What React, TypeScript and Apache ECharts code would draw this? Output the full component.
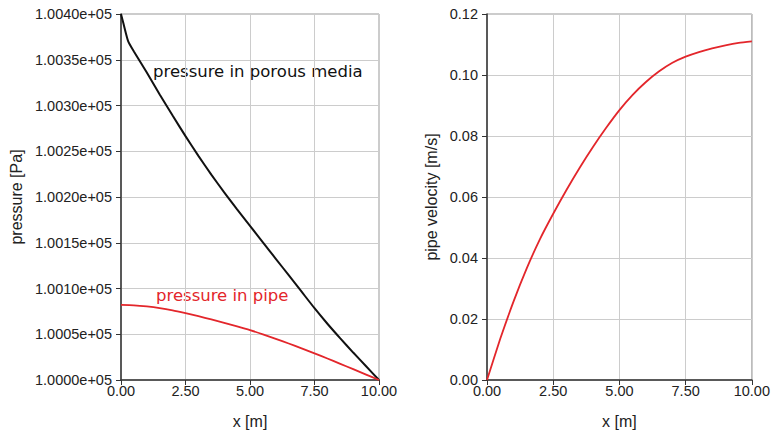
import React, { useEffect, useRef } from "react";
import * as echarts from "echarts";

const xTicks = [0, 2.5, 5, 7.5, 10];

const xPorous = [0, 0.1, 0.28, 0.5, 1.0, 1.5, 2.0, 2.5, 3.0, 3.5, 4.0, 4.5, 5.0, 5.5, 6.0, 6.5, 7.0, 7.5, 8.0, 8.5, 9.0, 9.5, 10];
const pPorous = [100400, 100389, 100370, 100359, 100336, 100312, 100289, 100266.5, 100245, 100224.5, 100205, 100186.5, 100168.5, 100150.5, 100132.5, 100114.5, 100096.5, 100078.5, 100061.5, 100045.5, 100030, 100015, 100000];

const xPipe = [0, 0.5, 1, 1.5, 2, 2.5, 3, 3.5, 4, 4.5, 5, 5.5, 6, 6.5, 7, 7.5, 8, 8.5, 9, 9.5, 10];
const pPipe = [100082, 100081.6, 100080.4, 100078.6, 100076.1, 100073, 100069.7, 100066.2, 100062.5, 100058.6, 100054.5, 100049.9, 100045, 100039.9, 100034.6, 100029.1, 100023.5, 100017.7, 100011.8, 100005.9, 100000];

const xVel = [0, 0.5, 1, 1.5, 2, 2.5, 3, 3.5, 4, 4.5, 5, 5.5, 6, 6.5, 7, 7.5, 8, 8.5, 9, 9.5, 10];
const vVel = [0, 0.0135, 0.0257, 0.0366, 0.0462, 0.0545, 0.0623, 0.0696, 0.0764, 0.0827, 0.0885, 0.0935, 0.0977, 0.1012, 0.104, 0.106, 0.1075, 0.1087, 0.1097, 0.1105, 0.111];

const zip = (a: number[], b: number[]) => a.map((v, i) => [v, b[i]]);

const FONT = "Liberation Sans, Arial, sans-serif";
const RED = "#e3262b";

export default function App() {
  const ref = useRef<HTMLDivElement>(null);
  useEffect(() => {
    document.body.style.margin = "0";
    if (!ref.current) return;
    const chart = echarts.init(ref.current, undefined, { renderer: "svg" });
    const xAxisBase = (gridIndex: number) => ({
      type: "value" as const,
      gridIndex,
      min: xTicks[0],
      max: xTicks[xTicks.length - 1],
      interval: 2.5,
      name: "x [m]",
      nameLocation: "middle" as const,
      nameGap: 33,
      nameTextStyle: { fontFamily: FONT, fontSize: 16, color: "#222" },
      axisLine: { show: true, lineStyle: { color: "#333", width: 1.5 } },
      axisTick: { show: true, length: 5, lineStyle: { color: "#333" } },
      axisLabel: { fontFamily: FONT, fontSize: 14.5, color: "#222", margin: 3, formatter: (v: number) => v.toFixed(2) },
      splitLine: { show: true, lineStyle: { color: "#cccccc", width: 1 } },
    });
    const lineOpts = { type: "line", showSymbol: false, smooth: 0.2 };
    chart.setOption({
      animation: false,
      grid: [
        { left: 121, top: 14, width: 258, height: 366, show: true, borderColor: "#999", borderWidth: 1 },
        { left: 487, top: 14, width: 266, height: 366, show: true, borderColor: "#999", borderWidth: 1 },
      ],
      xAxis: [xAxisBase(0), xAxisBase(1)],
      yAxis: [
        {
          type: "value",
          gridIndex: 0,
          min: 100000,
          max: 100400,
          interval: 50,
          name: "pressure [Pa]",
          nameLocation: "middle",
          nameGap: 97,
          nameTextStyle: { fontFamily: FONT, fontSize: 16, color: "#222" },
          axisLine: { show: true, lineStyle: { color: "#333", width: 1.5 } },
          axisTick: { show: true, length: 5, lineStyle: { color: "#333" } },
          axisLabel: { fontFamily: FONT, fontSize: 14.5, color: "#222", margin: 9, formatter: (v: number) => (v / 1e5).toFixed(4) + "e+05" },
          splitLine: { show: true, lineStyle: { color: "#cccccc", width: 1 } },
        },
        {
          type: "value",
          gridIndex: 1,
          min: 0,
          max: 0.12,
          interval: 0.02,
          name: "pipe velocity [m/s]",
          nameLocation: "middle",
          nameGap: 48,
          nameTextStyle: { fontFamily: FONT, fontSize: 16, color: "#222" },
          axisLine: { show: true, lineStyle: { color: "#333", width: 1.5 } },
          axisTick: { show: true, length: 5, lineStyle: { color: "#333" } },
          axisLabel: { fontFamily: FONT, fontSize: 14.5, color: "#222", margin: 9, formatter: (v: number) => v.toFixed(2) },
          splitLine: { show: true, lineStyle: { color: "#cccccc", width: 1 } },
        },
      ],
      series: [
        { ...lineOpts, xAxisIndex: 0, yAxisIndex: 0, data: zip(xPorous, pPorous), lineStyle: { color: "#111", width: 2 } },
        { ...lineOpts, xAxisIndex: 0, yAxisIndex: 0, data: zip(xPipe, pPipe), lineStyle: { color: RED, width: 1.8 } },
        { ...lineOpts, xAxisIndex: 1, yAxisIndex: 1, data: zip(xVel, vVel), lineStyle: { color: RED, width: 1.8 } },
      ],
      graphic: [
        { type: "text", left: 153, top: 63, style: { text: "pressure in porous media", fontFamily: "DejaVu Sans", fontSize: 16.5, fill: "#111" } },
        { type: "text", left: 156, top: 287, style: { text: "pressure in pipe", fontFamily: "DejaVu Sans", fontSize: 16.5, fill: RED } },
      ],
    });
    return () => chart.dispose();
  }, []);
  return <div ref={ref} style={{ width: 773, height: 434 }} />;
}
